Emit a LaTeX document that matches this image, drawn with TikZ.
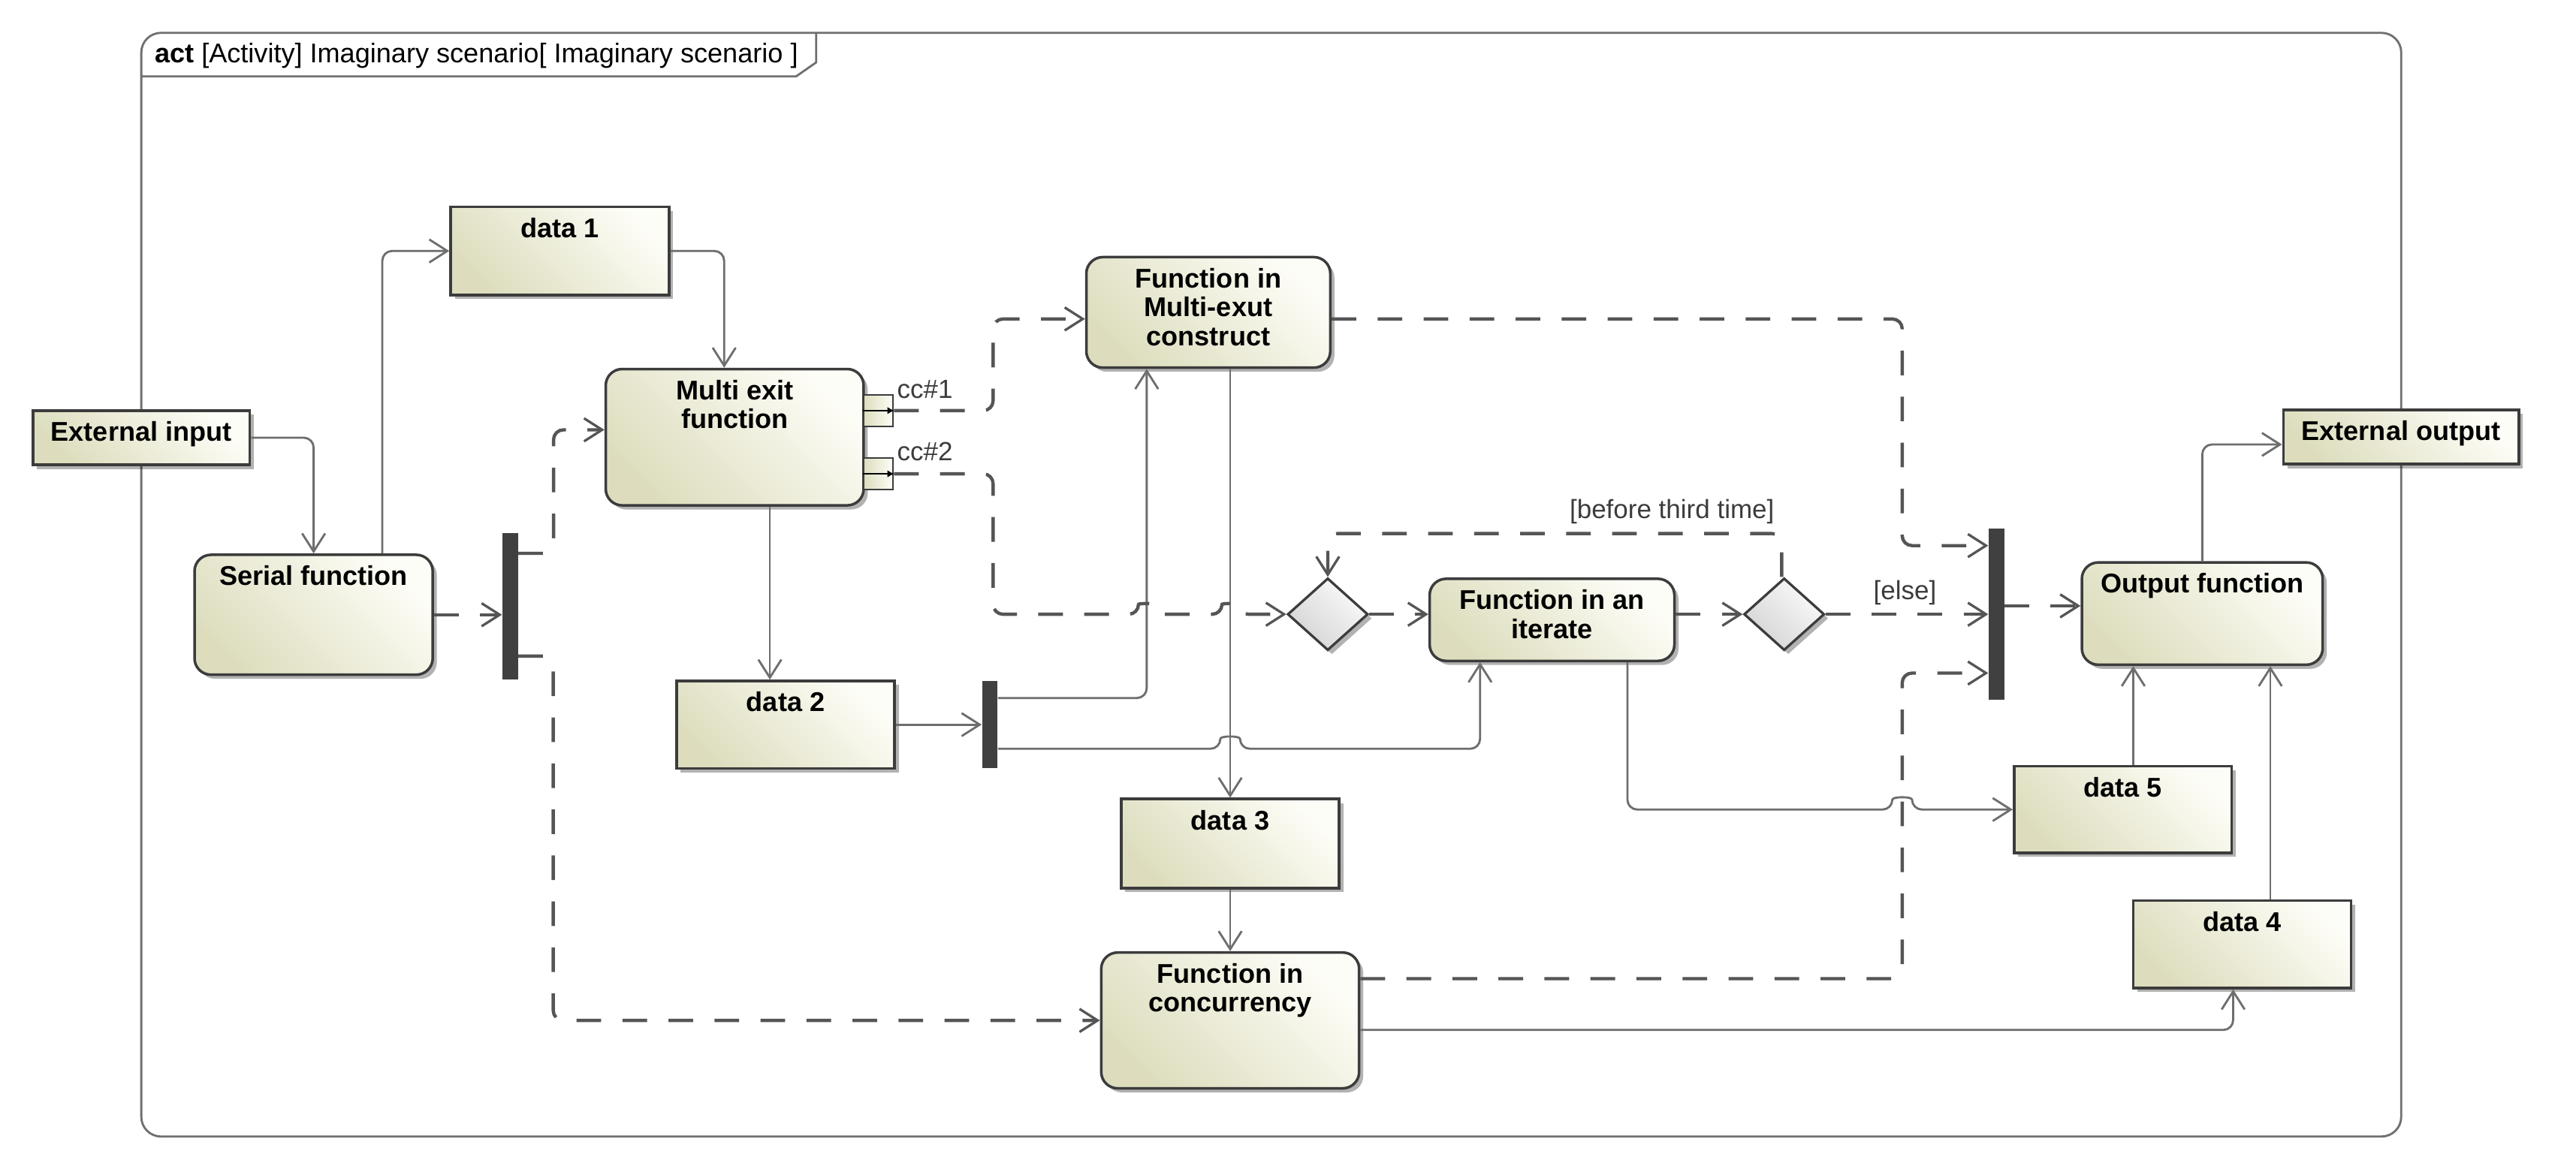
\documentclass[tikz,border=0pt]{standalone}
\usepackage{fontspec}
\setmainfont{Liberation Sans}
\usetikzlibrary{arrows.meta,shapes.geometric,shadows,calc}

\definecolor{nodeL}{RGB}{221,221,190}
\definecolor{nodeR}{RGB}{253,253,247}
\definecolor{edgec}{RGB}{60,60,60}
\definecolor{flowc}{RGB}{110,110,110}
\definecolor{ctrlc}{RGB}{85,85,85}
\definecolor{barc}{RGB}{64,64,64}
\definecolor{diaL}{RGB}{212,212,212}
\definecolor{diaR}{RGB}{250,250,250}
\definecolor{framec}{RGB}{112,112,112}
\definecolor{lblc}{RGB}{60,60,60}

\tikzset{
  shad/.style={drop shadow={shadow xshift=2.5pt,shadow yshift=-2.5pt,opacity=0.3,fill=black}},
  basebox/.style={draw=edgec, line width=1.6pt, top color=nodeL, bottom color=nodeR, shading angle=135, shad, inner sep=0pt},
  action/.style={basebox, rounded corners=10pt},
  objbox/.style={basebox},
  lbl/.style={anchor=north, yshift=-7.3pt, inner sep=0pt, align=center, text=black,
    font=\bfseries\fontsize{16.5}{17.6}\selectfont},
  lbltxt/.style={inner sep=0pt, text=lblc, font=\fontsize{16}{18}\selectfont},
  barnode/.style={fill=barc, draw=none, inner sep=0pt, minimum width=9.5pt},
  decis/.style={diamond, draw=edgec, line width=1.5pt, top color=diaL, bottom color=diaR, shading angle=135, shad,
    inner sep=0pt, minimum width=49pt, minimum height=44pt},
  pinbox/.style={draw=edgec, line width=1pt, left color=nodeL, right color=nodeR, inner sep=0pt,
    minimum width=18pt, minimum height=19pt},
  flow/.style={draw=flowc, line width=1.3pt, rounded corners=6pt,
    -{Straight Barb[length=11pt,width=14pt,line width=1.3pt]}},
  ctrl/.style={draw=ctrlc, line width=2pt, dash pattern=on 15pt off 13pt, rounded corners=6pt,
    -{Straight Barb[length=11pt,width=14pt,line width=1.5pt]}},
}

\begin{document}
\begin{tikzpicture}[x=1pt,y=-1pt]
\fill[white] (0,0) rectangle (1568,715);
\useasboundingbox (0,0) rectangle (1568,715);

% frame
\draw[framec, line width=1.3pt, rounded corners=12pt] (86,20) rectangle (1461.6,692);
\draw[framec, line width=1.3pt] (86,46.5) -- (484.6,46.5) -- (496.8,38) -- (496.8,20);
\node[anchor=west, inner sep=0pt, text=black, font=\fontsize{16.5}{18}\selectfont] (title) at (94,34)
  {\textbf{act} [Activity] Imaginary scenario[ Imaginary scenario ]};

% object nodes
\node[objbox, minimum width=132pt, minimum height=33pt, label={[lbl]north:External input}] (ExtIn) at (86,266.5) {};
\node[objbox, minimum width=133pt, minimum height=53.5pt, label={[lbl]north:data 1}] (data1) at (340.8,152.8) {};
\node[objbox, minimum width=132.7pt, minimum height=53.2pt, label={[lbl]north:data 2}] (data2) at (478.2,441.2) {};
\node[objbox, minimum width=132.6pt, minimum height=54.2pt, label={[lbl]north:data 3}] (data3) at (748.8,513.6) {};
\node[objbox, minimum width=132.5pt, minimum height=53.2pt, label={[lbl]north:data 4}] (data4) at (1364.8,575) {};
\node[objbox, minimum width=132.5pt, minimum height=52.7pt, label={[lbl]north:data 5}] (data5) at (1292.2,492.9) {};
\node[objbox, minimum width=143.3pt, minimum height=33pt, label={[lbl]north:External output}] (ExtOut) at (1461.5,266.1) {};

% actions
\node[action, minimum width=145pt, minimum height=73pt, label={[lbl]north:Serial function}] (Serial) at (190.9,374.3) {};
\node[action, minimum width=157pt, minimum height=83pt, label={[lbl]north:Multi exit\\function}] (MultiExit) at (447.2,266.2) {};
\node[action, minimum width=148.5pt, minimum height=67.3pt, label={[lbl]north:Function in\\Multi-exut\\construct}] (FuncMX) at (735.5,190.2) {};
\node[action, minimum width=149pt, minimum height=50pt, label={[lbl]north:Function in an\\iterate}] (Iterate) at (944.7,377.4) {};
\node[action, minimum width=157pt, minimum height=82.7pt, label={[lbl]north:Function in\\concurrency}] (Concurrency) at (748.8,621.3) {};
\node[action, minimum width=146.6pt, minimum height=62.3pt, label={[lbl]north:Output function}] (Output) at (1340.5,373.6) {};

% pins
\node[pinbox] (pin1) at (534.7,250) {};
\node[pinbox] (pin2) at (534.7,288.5) {};
\draw[-{Latex[length=4pt,width=4.5pt]}, line width=0.9pt, black] (pin1.west) -- (pin1.east);
\draw[-{Latex[length=4pt,width=4.5pt]}, line width=0.9pt, black] (pin2.west) -- (pin2.east);
\node[lbltxt] (cc1) at (563,237.3) {cc\#1};
\node[lbltxt] (cc2) at (563,275) {cc\#2};

% bars
\node[barnode, minimum height=89.4pt] (Bar1) at (310.5,369.1) {};
\node[barnode, minimum height=53pt] (Bar2) at (602.5,441.2) {};
\node[barnode, minimum height=104pt] (Bar3) at (1215.2,374) {};

% decisions
\node[decis] (D1) at (808.2,374) {};
\node[decis] (D2) at (1086,374) {};

% helper coordinates
\coordinate (jx1) at ([xshift=60.3pt]pin1.east);
\coordinate (vMX) at ([xshift=-37.5pt]FuncMX.south);
\coordinate (vCtl) at ([xshift=-52.4pt]Bar3.west);
\coordinate (b2up) at ([yshift=16.2pt]Bar2.east);
\coordinate (b2lo) at ([yshift=-14.7pt]Bar2.east);
\coordinate (hA) at (b2lo -| data3.north);
\coordinate (hB) at (vMX |- D1.west);
\coordinate (hC) at (data3.north |- D1.west);
\coordinate (itd) at ([xshift=45.9pt]Iterate.south);
\coordinate (hD) at (vCtl |- data5.west);
\coordinate (d5u) at ([xshift=6.3pt]data5.north);
\coordinate (d4u) at ([xshift=17.1pt]data4.north);
\coordinate (mxd) at ([xshift=21.4pt]MultiExit.south);
\coordinate (fmxR) at ([yshift=-4pt]FuncMX.east);
\coordinate (conR) at ([yshift=25.4pt]Concurrency.east);

% object flows (solid)
\draw[flow] (ExtIn.east) -| (Serial.north);
\draw[flow] ([xshift=41.8pt]Serial.north) |- (data1.west);
\draw[flow] (data1.east) -| ([xshift=-6.4pt]MultiExit.north);
\draw[flow] (mxd) -- (mxd |- data2.north);
\draw[flow] (data2.east) -- (Bar2.west);
\draw[flow] (b2up) -| (vMX);
\draw[flow] (b2lo) -- ($(hA)+(-6,0)$) .. controls +(0,-8) and +(0,-8) .. ($(hA)+(6,0)$) -| ([xshift=-43.8pt]Iterate.south);
\draw[flow] (FuncMX.south -| data3.north) -- (data3.north);
\draw[flow] (data3.south) -- (Concurrency.north);
\draw[flow] ([yshift=-5.8pt]Concurrency.east) -| ([xshift=-5.5pt]data4.south);
\draw[flow] (itd) |- ($(hD)+(-6,0)$) .. controls +(0,-8) and +(0,-8) .. ($(hD)+(6,0)$) -- (data5.west);
\draw[flow] (d5u) -- (d5u |- Output.south);
\draw[flow] (d4u) -- (d4u |- Output.south);
\draw[flow] (Output.north) |- ([yshift=-4.5pt]ExtOut.west);

% control flows (dashed)
\draw[ctrl] (Serial.east) -- (Serial.east -| Bar1.west);
\draw[ctrl] ([yshift=32.2pt]Bar1.east) -- ++(21.5,0) |- ([yshift=4.5pt]MultiExit.west);
\draw[ctrl] ([yshift=-30.4pt]Bar1.east) -- ++(21.3,0) |- (Concurrency.west);
\draw[ctrl] (pin1.east) -- (pin1.east -| jx1) |- ([yshift=-4pt]FuncMX.west);
\draw[ctrl] (pin2.east) -- (pin2.east -| jx1) |- ($(hB)+(-5,0)$)
   .. controls +(0,-6.7) and +(0,-6.7) .. ($(hB)+(5,0)$) -- ($(hC)+(-5,0)$)
   .. controls +(0,-6.7) and +(0,-6.7) .. ($(hC)+(5,0)$) -- (D1.west);
\draw[ctrl] (D1.east) -- (D1.east -| Iterate.west);
\draw[ctrl] (Iterate.east |- D2.west) -- (D2.west);
\draw[ctrl] ([xshift=-1.5pt]D2.north) -- ++(0,-26.4) -| (D1.north);
\node[lbltxt] (beforeL) at (1017.7,311.6) {[before third time]};
\draw[ctrl] (D2.east) -- (D2.east -| Bar3.west);
\node[lbltxt] (elseL) at (1159.5,360.8) {[else]};
\draw[ctrl] (fmxR) -- (fmxR -| vCtl) |- ([yshift=41.8pt]Bar3.west);
\draw[ctrl] (conR) -- (conR -| vCtl) |- ([yshift=-35.8pt]Bar3.west);
\draw[ctrl] ([yshift=5.1pt]Bar3.east) -- ([yshift=5.1pt]Bar3.east -| Output.west);
\end{tikzpicture}
\end{document}
